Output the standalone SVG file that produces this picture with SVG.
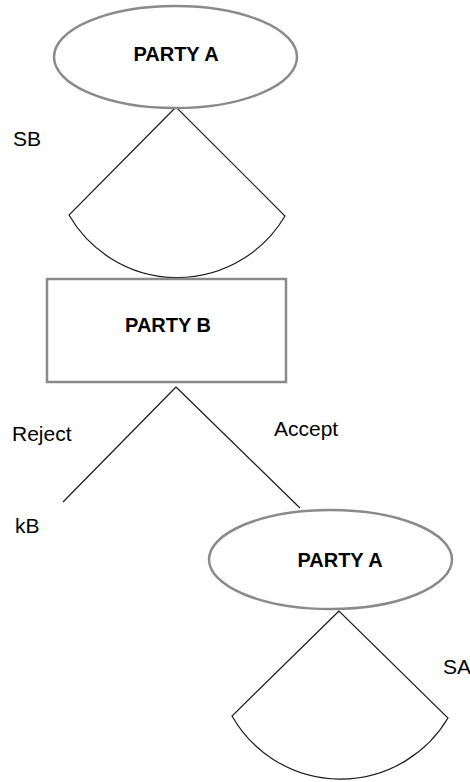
<svg xmlns="http://www.w3.org/2000/svg" width="470" height="782" viewBox="0 0 470 782">
  <style>
    .shape { fill: #ffffff; stroke: #8a8a8a; stroke-width: 2.5; }
    .edge { fill: none; stroke: #1a1a1a; stroke-width: 1.2; }
    .title { font-family: "Liberation Sans", Arial, sans-serif; font-size: 20px; font-weight: bold; fill: #000; text-anchor: middle; }
    .label { font-family: "Liberation Sans", Arial, sans-serif; font-size: 21px; fill: #000; }
  </style>
  <rect width="470" height="782" fill="#ffffff"/>

  <!-- branches and payoff sectors -->
  <g id="connectors">
    <path class="edge" d="M176 107 L69 215 A125 125 0 0 0 285 216 L176 107 Z"/>
    <path class="edge" d="M176 387 L63 502 M176 387 L300 508"/>
    <path class="edge" d="M339 611 L232 716 A125 125 0 0 0 448 718 L339 611 Z"/>
  </g>

  <g id="party-a-top">
    <ellipse class="shape" cx="175.5" cy="57" rx="121.5" ry="51"/>
    <text class="title" x="176" y="61">PARTY A</text>
  </g>

  <g id="party-b">
    <rect class="shape" x="47" y="279" width="239" height="103"/>
    <text class="title" x="168" y="332">PARTY B</text>
  </g>

  <g id="party-a-bottom">
    <ellipse class="shape" cx="330.5" cy="559.5" rx="121.5" ry="49.5"/>
    <text class="title" x="340" y="567">PARTY A</text>
  </g>

  <g id="labels">
    <text class="label" x="13" y="146">SB</text>
    <text class="label" x="12" y="441">Reject</text>
    <text class="label" x="274" y="436">Accept</text>
    <text class="label" x="15" y="533">kB</text>
    <text class="label" x="443" y="674">SA</text>
  </g>
</svg>
